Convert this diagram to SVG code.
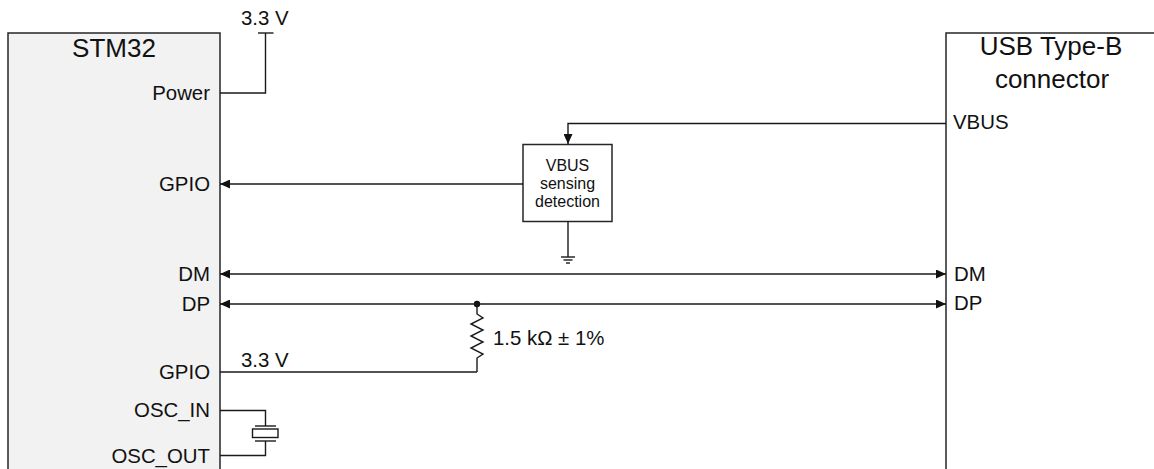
<svg xmlns="http://www.w3.org/2000/svg" width="1154" height="469" viewBox="0 0 1154 469">
<style>
.box{stroke:#262626;stroke-width:1.5}
.w{fill:none;stroke:#1a1a1a;stroke-width:1.4}
.t{font-family:"Liberation Sans",Arial,sans-serif;fill:#111}
.lbl{font-size:20.4px}
.ttl{font-size:26px}
.sm{font-size:16px}
</style>
<defs>
<marker id="ah" markerUnits="userSpaceOnUse" markerWidth="11" markerHeight="9" refX="10" refY="4.5" orient="auto-start-reverse" viewBox="0 0 11 9">
<path d="M0,0 L10,4.5 L0,9 z" fill="#111"/>
</marker>
</defs>
<rect width="1154" height="469" fill="#fff"/>
<g id="stm32">
<rect class="box" x="8" y="33" width="212" height="450" fill="#f2f2f2"/>
<text class="t ttl" x="114" y="56.5" text-anchor="middle">STM32</text>
<g class="t lbl" text-anchor="end">
<text x="210" y="100">Power</text>
<text x="210" y="191">GPIO</text>
<text x="210" y="281">DM</text>
<text x="210" y="311">DP</text>
<text x="210" y="379">GPIO</text>
<text x="210" y="417">OSC_IN</text>
<text x="210" y="462.5">OSC_OUT</text>
</g>
</g>
<g id="usb">
<rect class="box" x="946" y="33" width="220" height="450" fill="#fff"/>
<text class="t ttl" x="1051" y="55" text-anchor="middle">USB Type-B</text>
<text class="t ttl" x="1052" y="88" text-anchor="middle">connector</text>
<g class="t lbl">
<text x="953" y="129">VBUS</text>
<text x="954" y="281">DM</text>
<text x="954" y="310">DP</text>
</g>
</g>
<g id="vbus-sense">
<rect class="box" x="523" y="144.5" width="89" height="77" fill="#fff"/>
<g class="t sm" text-anchor="middle">
<text x="567.5" y="171">VBUS</text>
<text x="567.5" y="189">sensing</text>
<text x="567.5" y="207">detection</text>
</g>
</g>
<g id="supply-3v3-top">
<text class="t lbl" x="241" y="25">3.3 V</text>
<line class="w" x1="258" y1="33" x2="273.5" y2="33"/>
</g>
<g id="ground">
<line class="w" x1="561" y1="257" x2="575" y2="257"/>
<line class="w" x1="563.5" y1="260" x2="572.5" y2="260"/>
<line class="w" x1="566" y1="263" x2="570" y2="263"/>
</g>
<g id="resistor">
<circle cx="477" cy="304" r="3.2" fill="#111"/>
<polyline class="w" points="477,304 477,314 483,318 471,324 483,330 471,336 483,342 471,348 483,354 477,358 477,372"/>
<text class="t lbl" x="493" y="345">1.5 kΩ ± 1%</text>
</g>
<g id="supply-3v3-gpio">
<text class="t lbl" x="241" y="367">3.3 V</text>
</g>
<g id="crystal">
<line class="w" x1="255" y1="426" x2="276" y2="426"/>
<rect class="w" x="252.5" y="429" width="25.5" height="8.5"/>
<line class="w" x1="255" y1="441" x2="276" y2="441"/>
</g>
<g id="connectors">
<polyline class="w" points="220,93 265.5,93 265.5,33"/>
<polyline class="w" points="946,123.5 568,123.5 568,144" marker-end="url(#ah)"/>
<line class="w" x1="523" y1="184" x2="220" y2="184" marker-end="url(#ah)"/>
<line class="w" x1="568" y1="221.5" x2="568" y2="257"/>
<line class="w" x1="220" y1="274" x2="946" y2="274" marker-start="url(#ah)" marker-end="url(#ah)"/>
<line class="w" x1="220" y1="304" x2="946" y2="304" marker-start="url(#ah)" marker-end="url(#ah)"/>
<line class="w" x1="220" y1="372" x2="477" y2="372"/>
<polyline class="w" points="220,410.5 265.5,410.5 265.5,426"/>
<polyline class="w" points="265.5,441 265.5,455.5 220,455.5"/>
</g>
</svg>
